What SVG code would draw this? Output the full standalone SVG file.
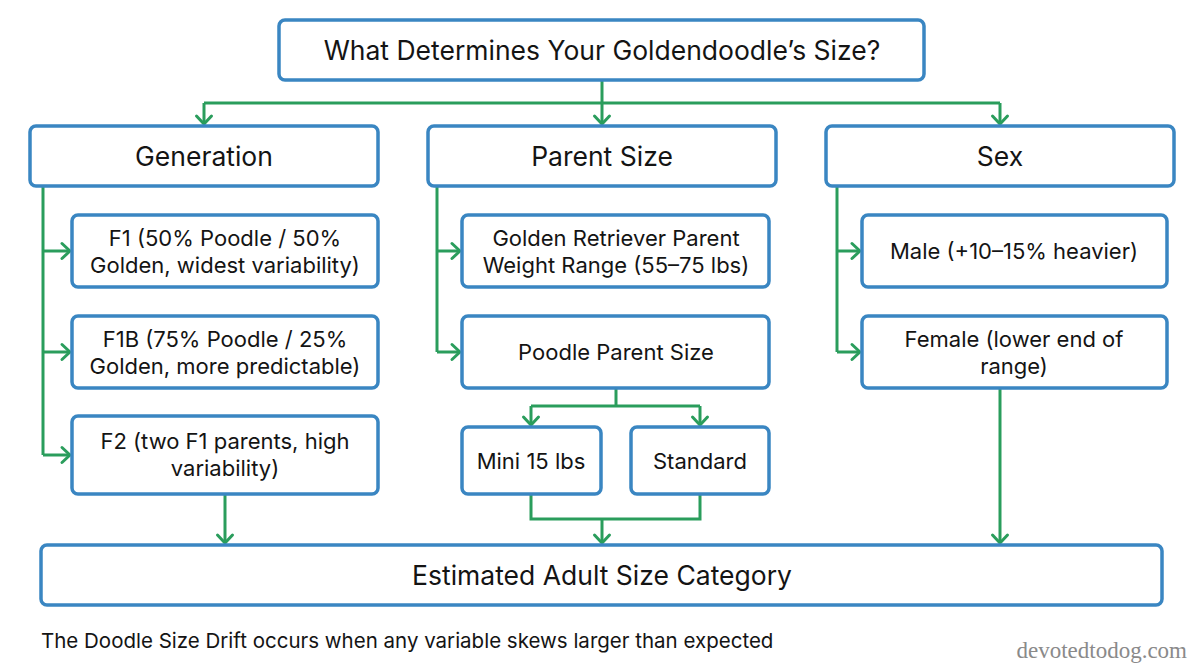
<svg xmlns="http://www.w3.org/2000/svg" width="1204" height="672" viewBox="0 0 1204 672">
<defs>
<marker id="arr" viewBox="0 0 20 20" refX="16" refY="10" markerWidth="20" markerHeight="20" markerUnits="userSpaceOnUse" orient="auto">
<path d="M8,2.5 L16,10 L8,17.5" fill="none" stroke="#2a9d5c" stroke-width="3" stroke-linecap="round" stroke-linejoin="round"/>
</marker>
<style>
.box{fill:#fff;stroke:#3a86c2;stroke-width:3.5}
.t{font-family:Inter,"Liberation Sans",sans-serif;fill:#141414;text-anchor:middle}
.big{font-size:26.5px}
.sm{font-size:22px}
.c{fill:none;stroke:#2a9d5c;stroke-width:3;stroke-linejoin:miter}
</style>
</defs>
<rect width="1204" height="672" fill="#fff"/>
<g id="connectors">
<path class="c" d="M602,80 V103"/>
<path class="c" d="M204,103 H1000"/>
<path class="c" d="M204,103 V124" marker-end="url(#arr)"/>
<path class="c" d="M602,103 V124" marker-end="url(#arr)"/>
<path class="c" d="M1000,103 V124" marker-end="url(#arr)"/>
<path class="c" d="M43,186 V455"/>
<path class="c" d="M43,251 H70" marker-end="url(#arr)"/>
<path class="c" d="M43,352 H70" marker-end="url(#arr)"/>
<path class="c" d="M43,455 H70" marker-end="url(#arr)"/>
<path class="c" d="M437,186 V352"/>
<path class="c" d="M437,251 H460" marker-end="url(#arr)"/>
<path class="c" d="M437,352 H460" marker-end="url(#arr)"/>
<path class="c" d="M837,186 V352"/>
<path class="c" d="M837,251 H860" marker-end="url(#arr)"/>
<path class="c" d="M837,352 H860" marker-end="url(#arr)"/>
<path class="c" d="M616,388 V406"/>
<path class="c" d="M531,406 H700"/>
<path class="c" d="M531,406 V425" marker-end="url(#arr)"/>
<path class="c" d="M700,406 V425" marker-end="url(#arr)"/>
<path class="c" d="M531,494 V519 H700 V494"/>
<path class="c" d="M602,519 V543" marker-end="url(#arr)"/>
<path class="c" d="M225,494 V543" marker-end="url(#arr)"/>
<path class="c" d="M1000,388 V543" marker-end="url(#arr)"/>
</g>
<g id="title">
<rect class="box" x="279" y="20" width="645" height="60" rx="6"/>
<text class="t big" x="602" y="60">What Determines Your Goldendoodle’s Size?</text>
</g>
<g id="generation">
<rect class="box" x="30" y="126" width="348" height="60" rx="6"/>
<text class="t big" x="204" y="166">Generation</text>
</g>
<g id="parent-size">
<rect class="box" x="428" y="126" width="348" height="60" rx="6"/>
<text class="t big" x="602" y="166">Parent Size</text>
</g>
<g id="sex">
<rect class="box" x="826" y="126" width="348" height="60" rx="6"/>
<text class="t big" x="1000" y="166">Sex</text>
</g>
<g id="f1">
<rect class="box" x="72" y="215" width="306" height="72" rx="6"/>
<text class="t sm" x="225" y="246">F1 (50% Poodle / 50%</text>
<text class="t sm" x="225" y="273">Golden, widest variability)</text>
</g>
<g id="f1b">
<rect class="box" x="72" y="316" width="306" height="72" rx="6"/>
<text class="t sm" x="225" y="347">F1B (75% Poodle / 25%</text>
<text class="t sm" x="225" y="374">Golden, more predictable)</text>
</g>
<g id="f2">
<rect class="box" x="72" y="416" width="306" height="78" rx="6"/>
<text class="t sm" x="225" y="449">F2 (two F1 parents, high</text>
<text class="t sm" x="225" y="476">variability)</text>
</g>
<g id="golden">
<rect class="box" x="462" y="215" width="307" height="72" rx="6"/>
<text class="t sm" x="616" y="246">Golden Retriever Parent</text>
<text class="t sm" x="616" y="273">Weight Range (55–75 lbs)</text>
</g>
<g id="poodle">
<rect class="box" x="462" y="316" width="307" height="72" rx="6"/>
<text class="t sm" x="616" y="360">Poodle Parent Size</text>
</g>
<g id="mini">
<rect class="box" x="462" y="427" width="139" height="67" rx="6"/>
<text class="t sm" x="531" y="469">Mini 15 lbs</text>
</g>
<g id="standard">
<rect class="box" x="631" y="427" width="138" height="67" rx="6"/>
<text class="t sm" x="700" y="469">Standard</text>
</g>
<g id="male">
<rect class="box" x="862" y="215" width="305" height="72" rx="6"/>
<text class="t sm" x="1014" y="259">Male (+10–15% heavier)</text>
</g>
<g id="female">
<rect class="box" x="862" y="316" width="305" height="72" rx="6"/>
<text class="t sm" x="1014" y="347">Female (lower end of</text>
<text class="t sm" x="1014" y="374">range)</text>
</g>
<g id="estimated">
<rect class="box" x="41" y="545" width="1121" height="60" rx="6"/>
<text class="t big" x="602" y="585">Estimated Adult Size Category</text>
</g>
<text x="41" y="648" font-family="Inter,'Liberation Sans',sans-serif" font-size="20.5" fill="#141414">The Doodle Size Drift occurs when any variable skews larger than expected</text>
<text x="1187" y="658" font-family="'Liberation Serif','DejaVu Serif',serif" font-size="23" fill="#8a8a8a" text-anchor="end">devotedtodog.com</text>
</svg>
